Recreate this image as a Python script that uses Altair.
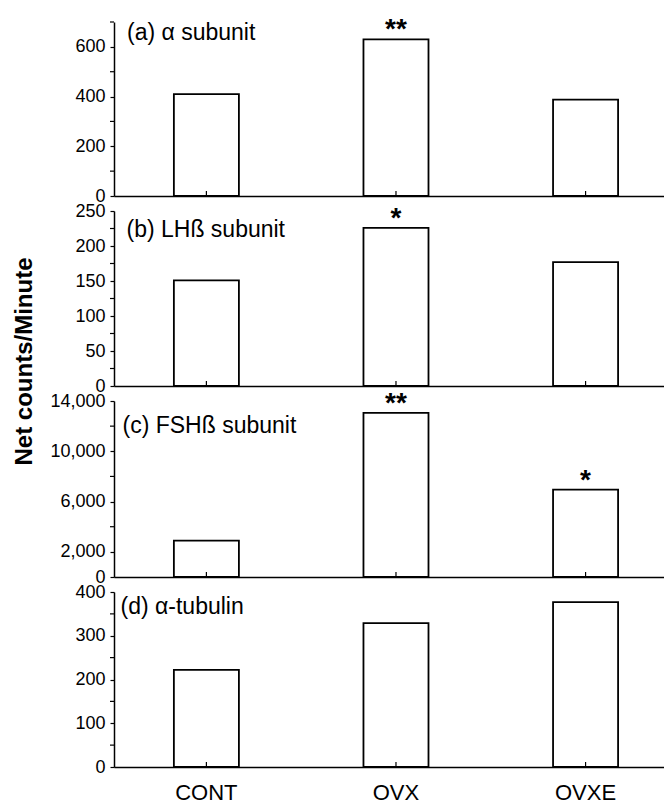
import altair as alt
import pandas as pd

groups = ["CONT", "OVX", "OVXE"]
alpha_subunit = [410, 630, 388]
lh_beta_subunit = [151, 226, 177]
fsh_beta_subunit = [2900, 13050, 6950]
alpha_tubulin = [222, 329, 377]

sig_alpha = ["", "**", ""]
sig_lh = ["", "*", ""]
sig_fsh = ["", "**", "*"]
sig_tubulin = ["", "", ""]

panel_labels = ["(a) α subunit", "(b) LHß subunit", "(c) FSHß subunit", "(d) α-tubulin"]
y_max = [700, 250, 14000, 400]
y_labels = [[0, 200, 400, 600], [0, 50, 100, 150, 200, 250],
            [0, 2000, 6000, 10000, 14000], [0, 100, 200, 300, 400]]
y_minor = [[100, 300, 500, 700], [25, 75, 125, 175, 225],
           [4000, 8000, 12000], [50, 150, 250, 350]]
y_title = "Net counts/Minute"

heights = [174, 175, 176, 175]
label_pos = [(13, 11), (12.5, 19), (8.5, 25), (6.5, 14.5)]
FONT = "Liberation Sans"


def panel(values, sig, label, ymax, labels, minor, height, show_x, with_title, lpos):
    df = pd.DataFrame({"group": groups, "value": values, "sig": sig})
    x_axis = alt.Axis(title=None, labels=show_x, ticks=False, domain=True,
                      labelFontSize=22, labelPadding=15, labelAngle=0)
    x = alt.X("group:N", sort=groups,
              scale=alt.Scale(paddingInner=0.657, paddingOuter=0.279, align=0.566),
              axis=x_axis)
    axis_kw = dict(values=labels, labelExpr="format(datum.value, ',')", grid=False,
                   tickSize=4, labelPadding=5, labelFontSize=18, labelOverlap=False,
                   labelFlush=False)
    if with_title:
        axis_kw.update(title=y_title, titleX=-90, titleY=150, titleAngle=270,
                       titleAlign="center", titleBaseline="middle",
                       titleFontSize=24, titleFontWeight="bold")
    else:
        axis_kw.update(title=None)
    yscale = alt.Scale(domain=[0, ymax], nice=False)
    y = alt.Y("value:Q", scale=yscale, axis=alt.Axis(**axis_kw))
    base = alt.Chart(df)
    bars = base.mark_bar(fill="white", stroke="black", strokeWidth=1.8).encode(x=x, y=y)
    xticks = base.mark_rule(color="black", strokeWidth=1.2).encode(
        x=x, y=alt.value(height), y2=alt.value(height - 5))
    stars = base.mark_text(font=FONT, fontSize=28, fontWeight="bold",
                           baseline="alphabetic", dy=-1, color="black").encode(
        x=x, y=y, text="sig:N")
    minor_df = pd.DataFrame({"value": minor})
    minor_ticks = alt.Chart(minor_df).mark_rule(color="black", strokeWidth=1.2).encode(
        y=y, x=alt.value(-4), x2=alt.value(0))
    lab_df = pd.DataFrame({"label": [label]})
    lab = alt.Chart(lab_df).mark_text(font=FONT, fontSize=23, align="left",
                                       baseline="middle", color="black").encode(
        x=alt.value(lpos[0]), y=alt.value(lpos[1]), text="label:N")
    return alt.layer(bars, xticks, stars, minor_ticks, lab).properties(width=550, height=height)


series = [alpha_subunit, lh_beta_subunit, fsh_beta_subunit, alpha_tubulin]
sigs = [sig_alpha, sig_lh, sig_fsh, sig_tubulin]
panels = []
for i in range(4):
    panels.append(panel(series[i], sigs[i], panel_labels[i], y_max[i], y_labels[i],
                        y_minor[i], heights[i], i == 3, i == 1, label_pos[i]))

chart = alt.vconcat(*panels, spacing=15, bounds="flush").properties(
    padding={"left": 4, "top": 8, "right": 0, "bottom": 0},
).configure_view(stroke=None).configure_axis(
    domainColor="black", domainWidth=1.5, tickColor="black", tickWidth=1.2,
    labelColor="black", labelFont=FONT, titleFont=FONT, titleColor="black",
)

chart.save("out.html", embed_options={"renderer": "svg", "actions": False})
